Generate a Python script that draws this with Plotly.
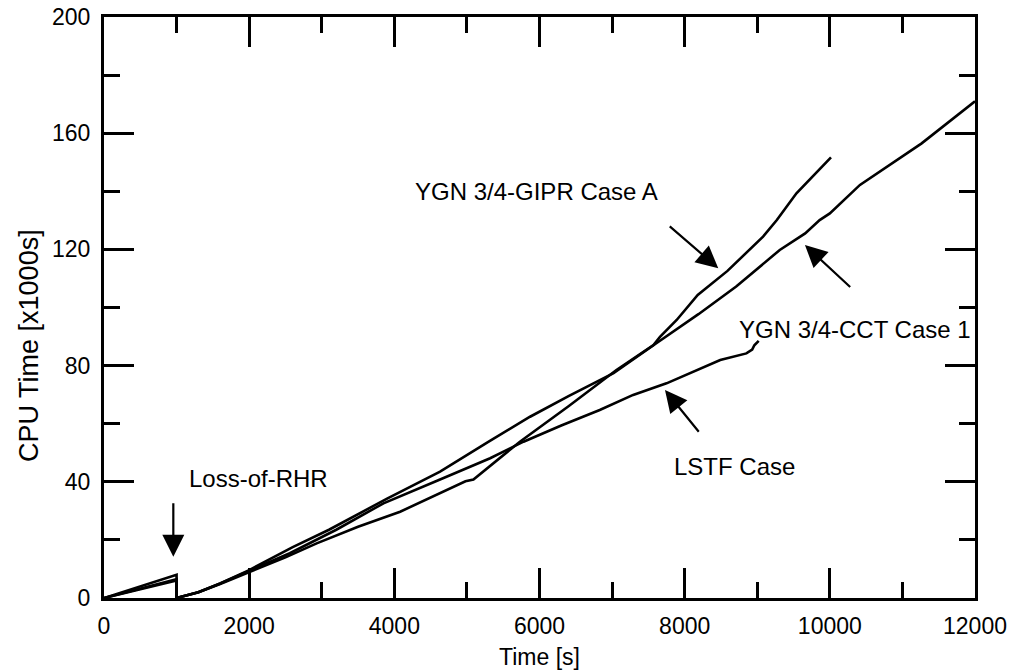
import plotly.graph_objects as go

# ---- data ----
cct_x = [0, 1000, 1000, 1300, 1600, 2000, 2600, 3100, 3900, 4630, 5300, 5870, 6400,
         6830, 7020, 7610, 8190, 8710, 9310, 9660, 9860, 10000, 10415, 11265, 12000]
cct_y = [0, 8.0, 0, 2.0, 5.0, 9.6, 17.5, 23.5, 34.2, 43.5, 53.8, 62.4, 69.5,
         75.0, 77.4, 87.7, 97.7, 107.2, 119.8, 125.5, 130.1, 132.4, 142.2, 156.5, 171.0]

gipr_x = [0, 1000, 1000, 1300, 1600, 2000, 2500, 2930, 3500, 4080, 4700, 4980, 5090,
          5730, 6400, 7060, 7570, 7660, 7890, 8180, 8590, 9080, 9270, 9540, 10016]
gipr_y = [0, 6.0, 0, 2.0, 4.8, 9.0, 14.0, 18.8, 24.5, 29.7, 37.0, 40.2, 40.8,
          53.8, 66.0, 78.5, 87.1, 89.9, 95.7, 104.3, 112.6, 124.4, 130.1, 139.3, 151.7]

lstf_x = [0, 1000, 1000, 1300, 1600, 2000, 2560, 3200, 3850, 4630, 5320, 5780, 6300,
          6830, 7290, 7750, 8070, 8490, 8850, 8930, 8960, 9020]
lstf_y = [0, 6.5, 0, 2.0, 5.0, 9.3, 15.4, 23.5, 32.6, 40.8, 48.1, 53.8, 59.4,
          64.7, 69.9, 73.9, 77.4, 81.9, 84.2, 85.5, 87.0, 88.5]

x_ticks = [0, 2000, 4000, 6000, 8000, 10000, 12000]
y_ticks = [0, 40, 80, 120, 160, 200]

labels = ["YGN 3/4-GIPR Case A", "YGN 3/4-CCT Case 1", "LSTF Case", "Loss-of-RHR"]

FONT = "Liberation Sans, Arial, sans-serif"
LW = 2.6

fig = go.Figure()
for xs, ys in [(cct_x, cct_y), (gipr_x, gipr_y), (lstf_x, lstf_y)]:
    fig.add_trace(go.Scatter(x=xs, y=ys, mode="lines",
                             line=dict(color="black", width=LW),
                             showlegend=False, hoverinfo="skip"))

axis_common = dict(
    showline=True, linecolor="black", linewidth=3, mirror="ticks",
    ticks="inside", ticklen=30, tickwidth=2.5, tickcolor="black",
    showgrid=False, zeroline=False, automargin=False,
    tickfont=dict(family=FONT, size=23, color="black"),
)

fig.update_xaxes(range=[0, 12000], tickvals=x_ticks, tickformat="d",
                 ticklabelstandoff=5,
                 minor=dict(dtick=1000, ticklen=16, tickwidth=2.5, ticks="inside",
                            tickcolor="black", showgrid=False),
                 **axis_common)
fig.update_yaxes(range=[0, 200], tickvals=y_ticks, tickformat="d",
                 ticklabelstandoff=6,
                 minor=dict(dtick=20, ticklen=16, tickwidth=2.5, ticks="inside",
                            tickcolor="black", showgrid=False),
                 **axis_common)

ann_font = dict(family=FONT, size=24, color="black")
annotations = [
    # text labels
    dict(x=7660, y=140, xref="x", yref="y", text=labels[0], showarrow=False,
         xanchor="right", yanchor="middle", font=ann_font),
    dict(x=8717, y=92.5, xref="x", yref="y", text=labels[1], showarrow=False,
         xanchor="left", yanchor="middle", font=ann_font),
    dict(x=7820, y=45.3, xref="x", yref="y", text=labels[2], showarrow=False,
         xanchor="left", yanchor="middle", font=ann_font),
    dict(x=1139, y=41.0, xref="x", yref="y", text=labels[3], showarrow=False,
         xanchor="left", yanchor="middle", font=ann_font),
    # arrows (tip at x,y; tail at ax,ay)
    dict(x=8463, y=113.5, ax=7774, ay=128.4),
    dict(x=9657, y=121.5, ax=10301, ay=106.6),
    dict(x=7729, y=71.6, ax=8211, ay=56.7),
    dict(x=955, y=14.2, ax=955, ay=33.1),
    # axis titles
    dict(x=-0.086, y=0.434, xref="paper", yref="paper", text="CPU Time [x1000s]",
         textangle=-90, showarrow=False, xanchor="center", yanchor="middle",
         font=dict(family=FONT, size=27, color="black")),
    dict(x=0.5, y=-0.1015, xref="paper", yref="paper", text="Time [s]",
         showarrow=False, xanchor="center", yanchor="middle",
         font=dict(family=FONT, size=23, color="black")),
]
for a in annotations:
    if "ax" in a:
        a.update(xref="x", yref="y", axref="x", ayref="y", text="", showarrow=True,
                 arrowhead=2, arrowsize=2.0, arrowwidth=2.2, arrowcolor="black",
                 standoff=0, startstandoff=0)
    fig.add_annotation(**a)

fig.update_layout(
    template="none",
    width=1015, height=672,
    margin=dict(l=104, r=40, t=17, b=74, pad=0, autoexpand=False),
    paper_bgcolor="white", plot_bgcolor="white",
    font=dict(family=FONT, color="black"),
    showlegend=False,
)

fig.write_html(
    "out.html",
    config={"displayModeBar": False},
    post_script="document.body.style.margin='0';document.body.style.overflow='hidden';"
                "document.documentElement.style.overflow='hidden';",
)
